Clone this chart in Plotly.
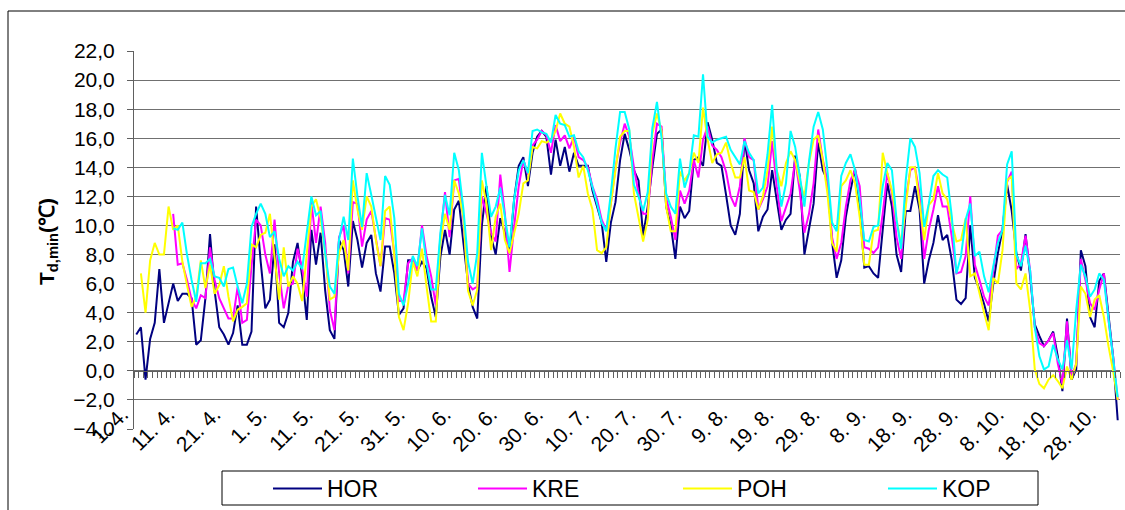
import plotly.graph_objects as go

# Daily minimum dew-point temperature, 1. 4. - 31. 10.
hor = [
    2.5, 3.0, -0.6, 2.2, 3.3, 7.0, 3.3, 4.6, 6.0, 4.8,
    5.3, 5.3, 5.0, 1.8, 2.1, 5.0, 9.4, 5.5, 3.0, 2.5,
    1.8, 2.6, 4.5, 1.8, 1.8, 2.7, 11.3, 7.5, 4.3, 4.9,
    8.7, 3.3, 3.0, 4.0, 7.5, 8.8, 6.5, 3.5, 9.7, 7.3,
    9.5, 5.5, 2.8, 2.2, 9.0, 8.3, 5.8, 10.3, 9.0, 7.1,
    8.8, 9.35, 6.7, 5.45, 8.55, 8.55, 6.7, 3.85, 4.3, 7.6,
    7.6, 6.9, 7.5, 7.05, 5.1, 3.7, 7.85, 9.7, 8.0, 11.1,
    11.7, 8.8, 6.0, 4.4, 3.6, 10.0, 12.7, 9.2, 8.0, 10.5,
    9.5, 8.1, 11.8, 14.1, 14.7, 12.7, 15.0, 16.1, 16.5, 16.1,
    13.5, 15.9, 14.1, 15.4, 13.7, 15.0, 14.1, 14.1, 14.1, 12.4,
    11.3, 10.2, 7.5, 10.2, 11.6, 14.5, 16.3, 15.2, 13.8, 13.1,
    9.3, 11.3, 14.0, 16.3, 16.6, 11.3, 10.0, 7.7, 11.3, 10.5,
    11.0, 14.5, 14.7, 14.1, 17.1, 15.9, 14.3, 14.1, 12.1, 10.0,
    9.35, 10.8, 15.9, 13.8, 12.9, 9.6, 10.6, 11.1, 13.8, 11.8,
    9.7, 10.4, 10.8, 14.8, 13.4, 8.0, 9.9, 11.5, 15.7, 13.8,
    13.1, 8.9, 6.4, 7.6, 10.6, 12.4, 13.9, 11.3, 7.1, 7.2,
    6.7, 6.4, 9.7, 12.9, 11.3, 8.0, 6.8, 11.0, 11.0, 12.7,
    11.1, 6.0, 7.6, 8.8, 10.7, 9.0, 9.35, 7.6, 4.9, 4.6,
    5.0, 10.0, 6.4, 5.6, 4.6, 3.4, 6.0, 8.1, 9.7, 12.8,
    11.0, 8.1, 6.9, 9.4, 6.5, 3.2, 2.4, 1.7, 2.1, 2.7,
    1.0, -1.4, 3.6, -0.6, 0.1, 8.3, 7.2, 3.7, 3.0, 6.2,
    6.7, 3.7, 1.0, -3.4,
]

kre = [
    None, None, None, None, None, None, None, None, 10.8, 7.3,
    7.4, 6.25, 4.9, 4.3, 5.2, 5.0, 8.5, 6.25, 5.0, 4.3,
    3.6, 3.6, 5.8, 3.3, 3.5, 7.2, 10.4, 10.0, 8.0, 6.7,
    10.4, 6.7, 4.3, 5.9, 6.0, 8.4, 7.05, 5.1, 11.6, 8.8,
    11.3, 8.8, 4.2, 2.8, 9.2, 10.0, 6.7, 11.6, 11.5, 8.55,
    10.4, 11.0, 9.0, 7.2, 10.5, 10.4, 8.1, 4.8, 4.8, 7.4,
    7.75, 6.9, 10.0, 7.9, 6.5, 4.5, 9.2, 12.3, 9.2, 13.1,
    13.2, 10.5, 6.0, 5.6, 5.8, 12.0, 10.8, 9.5, 8.9, 13.5,
    10.8, 6.8, 9.9, 12.7, 14.5, 13.5, 15.5, 15.9, 16.5, 16.2,
    15.0, 16.9, 15.8, 16.2, 15.3, 16.1, 14.7, 14.5, 14.0, 12.7,
    11.8, 10.4, 9.7, 11.5, 14.0, 15.7, 17.0, 16.1, 14.0, 12.2,
    10.8, 10.8, 14.5, 17.0, 16.8, 11.9, 10.6, 9.0, 12.4, 11.5,
    12.4, 14.5, 13.3, 15.9, 16.8, 15.5, 15.2, 14.7, 13.7, 12.0,
    11.3, 12.7, 16.0, 14.7, 14.5, 11.1, 11.8, 12.7, 15.8, 12.7,
    10.3, 11.3, 12.2, 14.5, 12.4, 9.5, 10.8, 12.9, 16.6, 14.5,
    13.1, 9.2, 7.7, 8.8, 11.3, 13.1, 13.8, 12.7, 8.5, 8.4,
    8.1, 8.5, 10.8, 13.6, 12.2, 9.2, 7.7, 11.8, 13.8, 14.0,
    12.2, 7.7, 9.7, 11.1, 12.7, 11.3, 11.3, 9.2, 6.7, 6.8,
    7.9, 12.0, 7.3, 6.25, 5.1, 4.5, 6.9, 9.3, 9.7, 13.0,
    13.7, 7.0, 7.4, 9.3, 6.9, 3.0, 1.9, 1.7, 2.1, 2.6,
    0.5, -0.9, 3.4, -0.4, 0.5, 7.7, 6.25, 4.65, 4.2, 5.6,
    6.7, 3.5, 1.0, -2.0,
]

poh = [
    None, 6.7, 4.0, 7.6, 8.8, 8.0, 8.0, 11.3, 9.7, 10.0,
    7.5, 5.9, 4.4, 5.1, 7.6, 5.7, 7.3, 5.3, 5.9, 7.2,
    5.1, 3.4, 4.2, 4.4, 4.65, 8.7, 8.5, 9.35, 9.5, 10.8,
    7.9, 4.9, 8.5, 5.8, 6.5, 6.0, 4.8, 7.9, 11.3, 11.8,
    10.5, 8.1, 4.9, 5.1, 8.1, 9.0, 6.9, 13.1, 11.1, 9.7,
    12.0, 11.3, 9.0, 7.2, 11.0, 11.3, 7.9, 3.7, 2.8, 4.65,
    7.5, 6.5, 8.4, 5.8, 3.4, 3.4, 8.8, 10.8, 9.7, 13.1,
    12.2, 10.6, 5.5, 4.5, 5.6, 13.1, 11.5, 8.3, 10.6, 11.5,
    9.0, 8.1, 9.5, 10.8, 12.9, 13.1, 15.4, 15.3, 15.8, 15.7,
    15.9, 16.5, 17.7, 17.0, 16.8, 15.4, 13.3, 14.1, 12.2, 11.1,
    8.3, 8.1, 8.5, 11.5, 13.8, 16.1, 16.5, 16.5, 12.2, 10.6,
    8.9, 10.4, 16.3, 17.7, 16.5, 11.3, 9.6, 9.6, 13.7, 13.1,
    13.6, 15.0, 14.3, 18.1, 15.9, 14.3, 14.9, 15.0, 15.7, 14.3,
    13.3, 13.3, 14.7, 12.4, 12.3, 11.1, 12.0, 13.8, 16.8, 13.8,
    12.7, 14.3, 15.1, 14.5, 13.0, 12.0, 14.3, 15.9, 16.2, 14.5,
    12.2, 8.8, 8.2, 12.7, 13.1, 13.8, 12.9, 10.6, 7.3, 7.3,
    9.6, 9.7, 15.0, 13.6, 12.4, 10.4, 8.7, 11.3, 14.0, 14.0,
    11.5, 9.0, 11.4, 11.8, 13.6, 12.2, 11.8, 10.2, 8.9, 9.0,
    10.5, 6.5, 6.7, 5.3, 4.0, 2.8, 6.4, 6.0, 8.3, 13.1,
    13.4, 6.0, 5.6, 6.7, 4.2, 0.1, -0.9, -1.2, -0.6, -0.3,
    -0.7, -1.2, 0.3, -0.6, 0.5, 5.8, 5.3, 3.7, 4.9, 5.2,
    3.7, 1.7, 0.0, -2.0,
]

kop = [
    None, None, None, None, None, None, None, None, 9.8, 9.7,
    10.2, 8.0, 6.25, 4.75, 7.4, 7.4, 7.7, 6.5, 6.4, 5.8,
    7.0, 7.1, 5.8, 4.65, 6.0, 9.9, 10.8, 11.5, 10.8, 9.2,
    9.6, 7.7, 6.5, 7.2, 6.9, 7.5, 7.0, 9.5, 12.0, 10.7,
    11.0, 8.1, 5.8, 5.3, 9.0, 10.6, 9.0, 14.6, 12.0, 9.9,
    13.6, 12.1, 10.6, 9.0, 13.4, 12.8, 10.5, 5.3, 4.5, 6.0,
    7.9, 7.2, 9.8, 7.4, 5.6, 5.6, 9.5, 12.1, 10.7, 15.0,
    13.8, 11.1, 7.5, 6.0, 8.1, 15.0, 12.7, 10.6, 11.3, 12.6,
    10.6, 8.5, 11.8, 13.8, 14.5, 13.6, 16.5, 16.6, 16.4, 16.3,
    15.7, 17.6, 17.0, 16.9, 16.1, 16.2, 15.1, 14.7, 13.8, 12.7,
    11.5, 10.2, 9.6, 12.2, 15.3, 17.8, 17.8, 16.6, 12.8, 12.0,
    11.0, 12.3, 16.7, 18.5, 16.0, 12.2, 11.3, 10.8, 14.6, 12.6,
    13.6, 16.2, 16.1, 20.4, 16.1, 15.7, 15.9, 16.0, 16.1, 15.2,
    14.7, 14.2, 15.8, 15.0, 14.5, 12.2, 12.6, 14.9, 18.3, 13.8,
    11.3, 12.9, 16.5, 15.4, 13.4, 11.3, 14.4, 16.8, 17.8, 16.6,
    13.8, 10.2, 9.6, 13.4, 14.3, 14.9, 13.8, 11.8, 9.0, 8.9,
    9.9, 10.0, 12.7, 14.3, 13.8, 10.4, 8.4, 13.1, 16.0, 15.4,
    13.6, 9.9, 11.5, 13.4, 13.8, 13.5, 13.3, 10.6, 6.7, 7.9,
    10.4, 11.5, 7.9, 8.2, 6.5, 5.4, 7.2, 8.8, 9.7, 14.2,
    15.1, 8.0, 7.2, 8.6, 6.9, 3.0, 1.0, 0.1, 0.3, 1.8,
    0.8, 0.1, 2.1, 0.1, 4.2, 7.3, 6.5, 5.1, 5.6, 6.7,
    6.25, 3.5, 1.0, -1.8,
]

tick_labels = [
    "1. 4.", "11. 4.", "21. 4.", "1. 5.", "11. 5.", "21. 5.", "31. 5.",
    "10. 6.", "20. 6.", "30. 6.", "10. 7.", "20. 7.", "30. 7.", "9. 8.",
    "19. 8.", "29. 8.", "8. 9.", "18. 9.", "28. 9.", "8. 10.", "18. 10.",
    "28. 10.",
]
label_step = 10

series_names = ["HOR", "KRE", "POH", "KOP"]
series_colors = ["#000080", "#FF00FF", "#FFFF00", "#00FFFF"]
series_values = [hor, kre, poh, kop]

day = list(range(len(hor)))
n_days = len(day)
label_days = [i * label_step for i in range(len(tick_labels))]

FONT = "Liberation Sans, Arial, sans-serif"

fig = go.Figure()
for name, color, vals in zip(series_names, series_colors, series_values):
    fig.add_trace(go.Scatter(
        x=day, y=vals, name=name, mode="lines",
        line=dict(color=color, width=2), connectgaps=False,
        hoverinfo="skip",
    ))

# empty carrier so the date-label axis gets drawn
fig.add_trace(go.Scatter(
    x=label_days, y=[None] * len(label_days), xaxis="x2", yaxis="y",
    mode="lines", showlegend=False, hoverinfo="skip",
))

y_min, y_max = -4, 22
zero_pos = (0 - y_min) / (y_max - y_min)

# pixel geometry of the plotting area
W, H = 1125, 510
L, R, T, B = 134, 5, 51, 81
pw, ph = W - L - R, H - T - B


def px_x(px):
    return (px - L) / pw


def px_y(py):
    return (H - B - py) / ph


frame_line = dict(color="black", width=1)

fig.update_layout(
    width=W, height=H, autosize=False,
    margin=dict(l=L, r=R, t=T, b=B, pad=0, autoexpand=False),
    paper_bgcolor="white", plot_bgcolor="white",
    separators=", ",
    font=dict(family=FONT, size=21, color="black"),
    showlegend=True,
    legend=dict(
        orientation="h", x=px_x(268), y=px_y(467), xanchor="left", yanchor="top",
        font=dict(family=FONT, size=23, color="black"),
        bgcolor="rgba(0,0,0,0)", borderwidth=0,
        entrywidth=141, entrywidthmode="pixels",
        itemwidth=49, traceorder="normal",
    ),
    # category axis crossing at zero: line with a tick between every day
    xaxis=dict(
        range=[-0.5, n_days - 0.5], anchor="free", position=zero_pos,
        showline=True, linecolor="#606060", linewidth=1,
        ticks="outside", ticklen=6, tickwidth=1, tickcolor="#606060",
        tickmode="linear", tick0=-0.5, dtick=1,
        showticklabels=False, showgrid=False, zeroline=False,
    ),
    # date labels, every tenth day
    xaxis2=dict(
        range=[-0.5, n_days - 0.5], overlaying="x", anchor="free",
        position=px_y(397), side="bottom",
        tickmode="array", tickvals=label_days,
        ticktext=tick_labels, tickangle=-45, ticklabelshift=-14,
        ticks="", showline=False, showgrid=False, zeroline=False,
        tickfont=dict(family=FONT, size=21, color="black"),
    ),
    yaxis=dict(
        range=[y_min, y_max], tickmode="linear", tick0=0, dtick=2,
        tickformat=".1f",
        showline=True, linecolor="#606060", linewidth=1,
        ticks="outside", ticklen=6, tickcolor="#606060",
        showgrid=True, gridcolor="#707070", gridwidth=1,
        zeroline=False, ticklabelstandoff=8,
        tickfont=dict(family=FONT, size=21, color="black"),
    ),
    annotations=[dict(
        text="<b>T<sub>d,min</sub>(℃)</b>", textangle=-90,
        xref="paper", yref="paper", x=px_x(48), y=px_y(242),
        xanchor="center", yanchor="middle", showarrow=False,
        font=dict(family=FONT, size=21, color="black"),
    )],
    shapes=[
        # chart frame (left and top edges fall inside the page)
        dict(type="line", xref="paper", yref="paper",
             x0=px_x(8), x1=px_x(8), y0=px_y(530), y1=px_y(11),
             line=frame_line, layer="below"),
        dict(type="line", xref="paper", yref="paper",
             x0=px_x(8), x1=px_x(1140), y0=px_y(11), y1=px_y(11),
             line=frame_line, layer="below"),
        # legend frame
        dict(type="rect", xref="paper", yref="paper",
             x0=px_x(222), x1=px_x(1038), y0=px_y(505), y1=px_y(471),
             line=frame_line, fillcolor="white", layer="above"),
    ],
)

fig.write_html("out.html")
